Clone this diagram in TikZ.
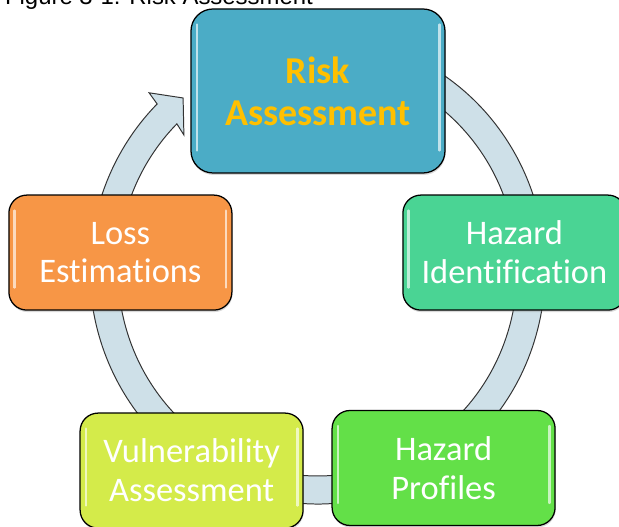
\documentclass[tikz,border=0pt]{standalone}
\usepackage{fontspec}
\setmainfont{Carlito}[Ligatures=NoCommon]
\newfontfamily\captionfont{Liberation Sans}
\usepackage{xcolor}
\usetikzlibrary{calc,shadows}
\definecolor{riskblue}{RGB}{75,172,198}
\definecolor{riskgold}{RGB}{255,192,0}
\definecolor{hazidgreen}{RGB}{74,212,148}
\definecolor{profgreen}{RGB}{99,224,72}
\definecolor{vulnyellow}{RGB}{212,235,74}
\definecolor{lossorange}{RGB}{247,150,70}
\definecolor{ringblue}{RGB}{206,224,232}
\tikzset{
shinev1/.style={path picture={
\draw[white,opacity=0.65,line width=1.6pt,line cap=round] ([xshift=4pt,yshift=-11pt]path picture bounding box.north west) -- ([xshift=4pt,yshift=16pt]path picture bounding box.south west);
\draw[white,opacity=0.65,line width=1.6pt,line cap=round] ([xshift=-4pt,yshift=-11pt]path picture bounding box.north east) -- ([xshift=-4pt,yshift=16pt]path picture bounding box.south east);
}},
boxnodev1/.style={rectangle, rounded corners=0.55cm, draw=black!100, fill=riskblue, line width=0.9pt, inner sep=0pt, minimum width=6.35cm, minimum height=4.1cm, align=center, text=riskgold, font=\fontsize{27}{30}\selectfont\bfseries, drop shadow={opacity=0.3,shadow xshift=0.4pt,shadow yshift=-1.4pt}, shinev1},
boxnodev2/.style={rectangle, rounded corners=0.45cm, draw=black!100, line width=0.9pt, inner sep=0pt, minimum width=5.575cm, minimum height=2.875cm, align=center, text=white, font=\fontsize{24.5}{27.7}\selectfont, drop shadow={opacity=0.3,shadow xshift=0.4pt,shadow yshift=-1.4pt}, shinev1},
ringarrow/.style={fill=ringblue, draw=black!80, line width=0.7pt, line join=miter},
}
\begin{document}
\begin{tikzpicture}
\path[use as bounding box, clip] (0,0) rectangle (15.475,13.175);

\node[anchor=base west, inner sep=0pt, font=\captionfont\fontsize{17}{20}\selectfont] at (0.12,13.05) (caption) {Figure 3-1: Risk Assessment};

% ring behind the boxes
\coordinate (ringc) at (7.9375,6.425);
\draw[ringarrow] ($(ringc)+(78:5.69 and 5.85)$) arc[start angle=78, end angle=-225.2, x radius=5.69, y radius=5.85]
  -- ($(ringc)+(-4.21,4.43)$) -- ($(ringc)+(-3.36,4.30)$) -- ($(ringc)+(-3.34,3.375)$)
  -- ($(ringc)+(134.8:4.99 and 5.15)$) arc[start angle=-225.2, end angle=78, x radius=4.99, y radius=5.15] -- cycle;

\node[boxnodev1] at (7.95,10.9) (risk) {Risk\\Assessment};
\node[boxnodev2, fill=hazidgreen] at (12.86,6.86) (hazid) {Hazard\\Identification};
\node[boxnodev2, fill=profgreen] at (11.09,1.475) (prof) {Hazard\\Profiles};
\node[boxnodev2, fill=vulnyellow] at (4.79,1.41) (vuln) {Vulnerability\\Assessment};
\node[boxnodev2, fill=lossorange] at (3.01,6.86) (loss) {Loss\\Estimations};

\end{tikzpicture}
\end{document}
